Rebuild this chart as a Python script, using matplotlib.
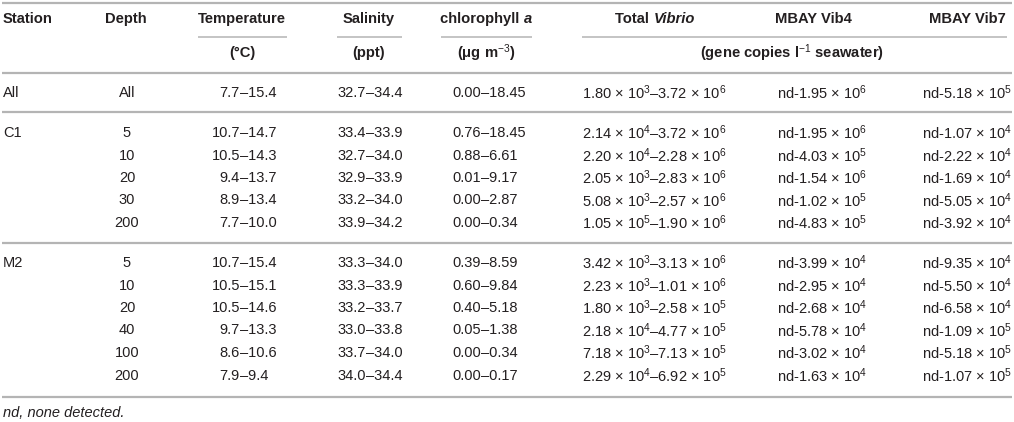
import matplotlib
matplotlib.use("Agg")
import matplotlib.pyplot as plt

plt.rcParams['font.family'] = ['Liberation Sans', 'DejaVu Sans']
plt.rcParams['mathtext.fontset'] = 'custom'
plt.rcParams['mathtext.rm'] = 'Liberation Sans'
plt.rcParams['mathtext.it'] = 'Liberation Sans:italic'
plt.rcParams['mathtext.bf'] = 'Liberation Sans:bold'

# table data
stations = ["All", "C1", "", "", "", "", "M2", "", "", "", "", ""]
depths = ["All", "5", "10", "20", "30", "200", "5", "10", "20", "40", "100", "200"]
temp_lo = [7.7, 10.7, 10.5, 9.4, 8.9, 7.7, 10.7, 10.5, 10.5, 9.7, 8.6, 7.9]
temp_hi = [15.4, 14.7, 14.3, 13.7, 13.4, 10.0, 15.4, 15.1, 14.6, 13.3, 10.6, 9.4]
sal_lo = [32.7, 33.4, 32.7, 32.9, 33.2, 33.9, 33.3, 33.3, 33.2, 33.0, 33.7, 34.0]
sal_hi = [34.4, 33.9, 34.0, 33.9, 34.0, 34.2, 34.0, 33.9, 33.7, 33.8, 34.0, 34.4]
chl_lo = [0.00, 0.76, 0.88, 0.01, 0.00, 0.00, 0.39, 0.60, 0.40, 0.05, 0.00, 0.00]
chl_hi = [18.45, 18.45, 6.61, 9.17, 2.87, 0.34, 8.59, 9.84, 5.18, 1.38, 0.34, 0.17]
vib_lo = [1.80e3, 2.14e4, 2.20e4, 2.05e3, 5.08e3, 1.05e5, 3.42e3, 2.23e3, 1.80e3, 2.18e4, 7.18e3, 2.29e4]
vib_hi = [3.72e6, 3.72e6, 2.28e6, 2.83e6, 2.57e6, 1.90e6, 3.13e6, 1.01e6, 2.58e5, 4.77e5, 7.13e5, 6.92e5]
vib4_hi = [1.95e6, 1.95e6, 4.03e5, 1.54e6, 1.02e5, 4.83e5, 3.99e4, 2.95e4, 2.68e4, 5.78e4, 3.02e4, 1.63e4]
vib7_hi = [5.18e5, 1.07e4, 2.22e4, 1.69e4, 5.05e4, 3.92e4, 9.35e4, 5.50e4, 6.58e4, 1.09e5, 5.18e5, 1.07e5]

TXT = '#231f20'
LINE = '#b4b4b4'
FS = 10.5
HFS = 10.6


def sci(v):
    e = 0
    m = v
    while m >= 10:
        m /= 10
        e += 1
    return "%.2f \u00d7 10$^{%d}$" % (m, e)


fig = plt.figure(figsize=(10.14, 4.22), dpi=100)
ax = fig.add_axes([0, 0, 1, 1])
ax.set_xlim(0, 1014)
ax.set_ylim(422, 0)
ax.axis('off')
renderer = fig.canvas.get_renderer()


def rich(x, y, parts, ha='center'):
    # parts: list of (string, weight, style)
    objs = []
    widths = []
    for s, w, st in parts:
        t = ax.text(0, y, s, fontsize=HFS, color=TXT, fontweight=w,
                    fontstyle=st, va='center', ha='left')
        bb = t.get_window_extent(renderer)
        objs.append(t)
        widths.append(bb.width)
    total = sum(widths)
    x0 = x - total / 2 if ha == 'center' else x
    for t, w in zip(objs, widths):
        t.set_x(x0)
        x0 += w


def dash(xd, y, lo, hi):
    ax.text(xd, y, lo, fontsize=FS, color=TXT, va='center', ha='right')
    ax.text(xd, y, "\u2013" + hi, fontsize=FS, color=TXT, va='center', ha='left')


def head(x, y, s, ha='center'):
    ax.text(x, y, s, fontsize=HFS, color=TXT, fontweight='bold', va='center', ha=ha)


# rules
for yl in [3, 73, 112, 243, 397]:
    ax.plot([2, 1012], [yl, yl], color=LINE, lw=1.6, solid_capstyle='butt')
for x0, x1 in [(198, 287), (337, 402), (441, 532), (582, 1007)]:
    ax.plot([x0, x1], [37, 37], color=LINE, lw=1.1, solid_capstyle='butt')

# headers
hy, uy = 19, 53
head(3, hy, "Station", ha='left')
head(126, hy, "Depth")
head(242, hy, "Temperature")
head(369, hy, "Salinity")
rich(486, hy, [("chlorophyll ", 'bold', 'normal'), ("a", 'bold', 'italic')])
rich(655, hy, [("Total ", 'bold', 'normal'), ("Vibrio", 'bold', 'italic')])
head(813, hy, "MBAY Vib4")
head(967, hy, "MBAY Vib7")

head(242, uy, "(\u00b0C)")
head(369, uy, "(ppt)")
head(486, uy, "(\u03bcg m$^{-3}$)")
head(792, uy, "(gene copies l$^{-1}$ seawater)")

# body rows
step = 22.5
row_y = [93] + [133 + i * step for i in range(5)] + [263 + i * step for i in range(6)]
for i, y in enumerate(row_y):
    ax.text(3, y, stations[i], fontsize=FS, color=TXT, va='center', ha='left')
    ax.text(127, y, depths[i], fontsize=FS, color=TXT, va='center', ha='center')
    dash(240, y, "%.1f" % temp_lo[i], "%.1f" % temp_hi[i])
    dash(366, y, "%.1f" % sal_lo[i], "%.1f" % sal_hi[i])
    dash(481, y, "%.2f" % chl_lo[i], "%.2f" % chl_hi[i])
    ax.text(582, y, sci(vib_lo[i]) + "\u2013" + sci(vib_hi[i]), fontsize=FS, color=TXT,
            va='center', ha='left')
    ax.text(777, y, "nd-" + sci(vib4_hi[i]), fontsize=FS, color=TXT, va='center', ha='left')
    ax.text(922, y, "nd-" + sci(vib7_hi[i]), fontsize=FS, color=TXT, va='center', ha='left')

ax.text(3, 413, "nd, none detected.", fontsize=FS, color=TXT, fontstyle='italic',
        va='center', ha='left')

fig.savefig("out.png", dpi=100)
